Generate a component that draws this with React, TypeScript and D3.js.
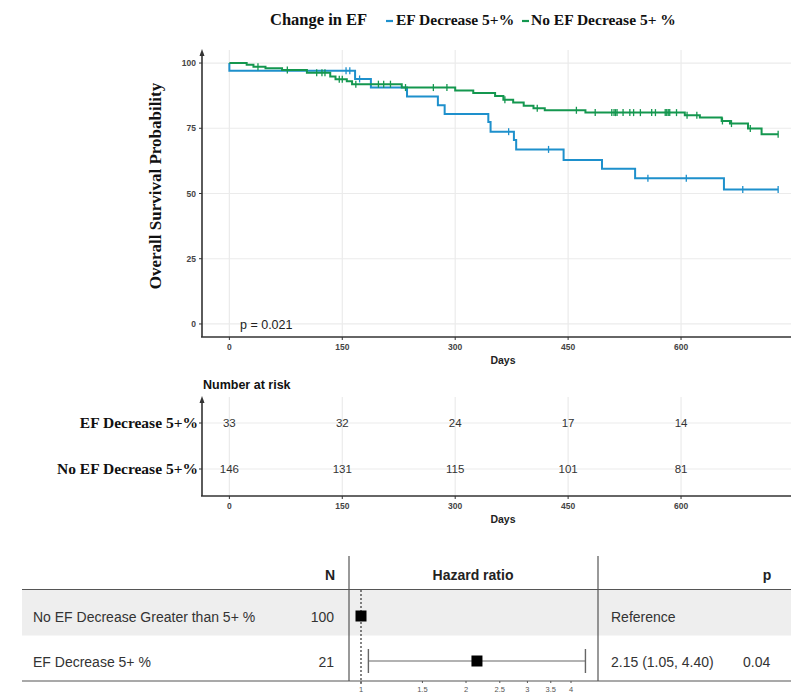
import React from "react";
import * as d3 from "d3";

// ---------- data ----------
const dayTicks = [0, 150, 300, 450, 600];
const survTicks = [0, 25, 50, 75, 100];
const groupNames = ["EF Decrease 5+%", "No EF Decrease 5+ %"];
const riskGroups = ["EF Decrease 5+%", "No EF Decrease 5+%"];

const efDecTimes = [0, 0, 167, 188, 236, 277, 286, 344, 347, 378, 381, 444, 495, 539, 657, 729];
const efDecSurv = [100, 97.0, 93.9, 90.6, 87.2, 83.8, 80.5, 77.4, 73.7, 70.5, 66.9, 62.8, 59.5, 55.8, 51.5, 51.5];
const efDecCensor = [155, 160, 173, 371, 424, 556, 607, 682, 729];

const noDecTimes = [0, 23, 32, 48, 70, 103, 134, 141, 156, 163, 229, 300, 324, 353, 364, 377, 391, 404, 419, 473, 605, 625, 654, 665, 689, 707, 729];
const noDecSurv = [100, 99.3, 98.6, 98.0, 97.3, 96.3, 94.8, 93.8, 93.0, 91.9, 90.6, 89.5, 88.5, 87.4, 85.9, 84.9, 83.6, 82.7, 81.9, 81.0, 80.0, 79.1, 77.8, 76.8, 74.9, 72.7, 72.7];
const noDecCensor = [38, 77, 116, 123, 127, 146, 150, 168, 198, 205, 214, 234, 271, 289, 366, 409, 461, 486, 508, 511, 513, 515, 523, 532, 537, 546, 561, 566, 579, 581, 583, 585, 594, 608, 621, 655, 667, 692, 729];

const riskEF = [33, 32, 24, 17, 14];
const riskNo = [146, 131, 115, 101, 81];

const pText = "p = 0.021";

const forestLabels = ["No EF Decrease Greater than 5+ %", "EF Decrease 5+ %"];
const forestN = [100, 21];
const forestHR = [1, 2.15];
const forestLo = [NaN, 1.05];
const forestHi = [NaN, 4.4];
const forestEst = ["Reference", "2.15 (1.05, 4.40)"];
const forestP = ["", "0.04"];
const hrTicks = [1, 1.5, 2, 2.5, 3, 3.5, 4];

// ---------- styles ----------
const BLUE = "#1e90cc";
const GREEN = "#14974f";
const GRID = "#ebebeb";
const AXIS = "#333333";
const SERIF = "'Liberation Serif', 'Times New Roman', serif";
const SANS = "'Liberation Sans', Arial, sans-serif";

function stepValue(times: number[], surv: number[], t: number) {
  let v = surv[0];
  for (let i = 0; i < times.length; i++) if (times[i] <= t) v = surv[i];
  return v;
}

export default function App() {
  const W = 791, H = 695;
  const x = d3.scaleLinear().domain([-36.35, 763.35]).range([202, 804]);
  const y = d3.scaleLinear().domain([-5, 105]).range([337, 50]);
  const line = d3
    .line<[number, number]>()
    .x((d) => x(d[0]))
    .y((d) => y(d[1]))
    .curve(d3.curveStepAfter);

  const series = [
    { times: efDecTimes, surv: efDecSurv, cens: efDecCensor, color: BLUE },
    { times: noDecTimes, surv: noDecSurv, cens: noDecCensor, color: GREEN },
  ];

  // risk table
  const ry = d3.scalePoint<string>().domain(riskGroups).range([423, 469]);
  const riskTop = 397, riskBottom = 496;
  const riskVals = [riskEF, riskNo];

  // forest
  const hx = d3.scaleLog().domain([1, 4]).range([361, 571]);
  const rowY = [617, 662];

  return (
    <svg width={W} height={H} style={{ position: "absolute", left: 0, top: 0, background: "#fff" }}>
      <style>{`body{margin:0}`}</style>
      {/* Legend */}
      <g>
        <text x={270} y={25} fontFamily={SERIF} fontWeight="bold" fontSize={16.5} fill="#111">Change in EF</text>
        <line x1={386} x2={393} y1={21} y2={21} stroke={BLUE} strokeWidth={2.2} />
        <text x={396} y={25} fontFamily={SERIF} fontWeight="bold" fontSize={15.5} fill="#111">{groupNames[0]}</text>
        <line x1={522} x2={529} y1={21} y2={21} stroke={GREEN} strokeWidth={2.2} />
        <text x={531} y={25} fontFamily={SERIF} fontWeight="bold" fontSize={15.5} fill="#111">{groupNames[1]}</text>
      </g>

      {/* main grid */}
      <g>
        {survTicks.map((t) => (
          <line key={"hg" + t} x1={202} x2={804} y1={y(t)} y2={y(t)} stroke={GRID} strokeWidth={1.2} />
        ))}
        {dayTicks.map((t) => (
          <line key={"vg" + t} x1={x(t)} x2={x(t)} y1={50} y2={337} stroke={GRID} strokeWidth={1.2} />
        ))}
      </g>

      {/* curves */}
      {series.map((s, i) => (
        <g key={"s" + i}>
          <path
            d={line(s.times.map((t, j) => [t, s.surv[j]] as [number, number])) || ""}
            fill="none"
            stroke={s.color}
            strokeWidth={2}
          />
          {s.cens.map((c, j) => {
            const v = stepValue(s.times, s.surv, c);
            return (
              <line key={j} x1={x(c)} x2={x(c)} y1={y(v) - 3.5} y2={y(v) + 3.5} stroke={s.color} strokeWidth={1.3} />
            );
          })}
        </g>
      ))}

      {/* axes */}
      <g>
        <line x1={202} x2={202} y1={54} y2={337} stroke={AXIS} strokeWidth={1.6} />
        <path d="M202,49 L199.5,56 L204.5,56 Z" fill={AXIS} />
        <line x1={201} x2={804} y1={337} y2={337} stroke={AXIS} strokeWidth={1.6} />
        {survTicks.map((t) => (
          <g key={"yt" + t}>
            <line x1={199} x2={202} y1={y(t)} y2={y(t)} stroke={AXIS} strokeWidth={1} />
            <text x={196} y={y(t) + 3} textAnchor="end" fontFamily={SANS} fontWeight="bold" fontSize={8.5} fill="#444">{t}</text>
          </g>
        ))}
        {dayTicks.map((t) => (
          <g key={"xt" + t}>
            <line x1={x(t)} x2={x(t)} y1={337} y2={340} stroke={AXIS} strokeWidth={1} />
            <text x={x(t)} y={350} textAnchor="middle" fontFamily={SANS} fontWeight="bold" fontSize={8.5} fill="#444">{t}</text>
          </g>
        ))}
        <text x={503} y={364} textAnchor="middle" fontFamily={SANS} fontWeight="bold" fontSize={10.5} fill="#222">Days</text>
        <text
          transform="translate(161,186) rotate(-90)"
          textAnchor="middle"
          fontFamily={SERIF}
          fontWeight="bold"
          fontSize={17}
          fill="#111"
        >
          Overall Survival Probability
        </text>
        <text x={240} y={329} fontFamily={SANS} fontSize={12.5} fill="#222">{pText}</text>
      </g>

      {/* risk table */}
      <g>
        <text x={203} y={389} fontFamily={SANS} fontWeight="bold" fontSize={12.5} fill="#111">Number at risk</text>
        {riskGroups.map((g) => (
          <line key={"rg" + g} x1={202} x2={804} y1={ry(g)} y2={ry(g)} stroke={GRID} strokeWidth={1.2} />
        ))}
        {dayTicks.map((t) => (
          <line key={"rv" + t} x1={x(t)} x2={x(t)} y1={riskTop} y2={riskBottom} stroke={GRID} strokeWidth={1.2} />
        ))}
        <line x1={202} x2={202} y1={riskTop + 4} y2={riskBottom} stroke={AXIS} strokeWidth={1.6} />
        <path d={`M202,${riskTop - 1} L199.5,${riskTop + 6} L204.5,${riskTop + 6} Z`} fill={AXIS} />
        <line x1={201} x2={804} y1={riskBottom} y2={riskBottom} stroke={AXIS} strokeWidth={1.6} />
        {riskGroups.map((g, i) => (
          <g key={"rl" + g}>
            <line x1={199} x2={202} y1={ry(g)} y2={ry(g)} stroke={AXIS} strokeWidth={1} />
            <text x={198} y={(ry(g) as number) + 5} textAnchor="end" fontFamily={SERIF} fontWeight="bold" fontSize={15.5} fill="#111">{g}</text>
            {riskVals[i].map((v, j) => (
              <text key={j} x={x(dayTicks[j])} y={(ry(g) as number) + 4} textAnchor="middle" fontFamily={SANS} fontSize={11.5} fill="#333">{v}</text>
            ))}
          </g>
        ))}
        {dayTicks.map((t) => (
          <g key={"rxt" + t}>
            <line x1={x(t)} x2={x(t)} y1={riskBottom} y2={riskBottom + 3} stroke={AXIS} strokeWidth={1} />
            <text x={x(t)} y={riskBottom + 13} textAnchor="middle" fontFamily={SANS} fontWeight="bold" fontSize={8.5} fill="#444">{t}</text>
          </g>
        ))}
        <text x={503} y={523} textAnchor="middle" fontFamily={SANS} fontWeight="bold" fontSize={10.5} fill="#222">Days</text>
      </g>

      {/* forest plot */}
      <g>
        <rect x={22} y={589.5} width={W - 22} height={46} fill="#eeeeee" />
        <line x1={22} x2={W} y1={589.5} y2={589.5} stroke="#555" strokeWidth={1.2} />
        <line x1={22} x2={W} y1={681} y2={681} stroke="#555" strokeWidth={1.2} />
        <line x1={349} x2={349} y1={556} y2={681} stroke="#555" strokeWidth={1.2} />
        <line x1={598} x2={598} y1={556} y2={681} stroke="#555" strokeWidth={1.2} />
        <text x={330} y={580} textAnchor="middle" fontFamily={SANS} fontWeight="bold" fontSize={14} fill="#222">N</text>
        <text x={473} y={580} textAnchor="middle" fontFamily={SANS} fontWeight="bold" fontSize={14} fill="#222">Hazard ratio</text>
        <text x={767} y={580} textAnchor="middle" fontFamily={SANS} fontWeight="bold" fontSize={14} fill="#222">p</text>
        <line x1={hx(1)} x2={hx(1)} y1={590} y2={684} stroke="#333" strokeWidth={1.2} strokeDasharray="2,2" />
        {forestLabels.map((lab, i) => (
          <g key={"f" + i}>
            <text x={33} y={rowY[i] + 5} fontFamily={SANS} fontSize={14} fill="#333">{lab}</text>
            <text x={334} y={rowY[i] + 5} textAnchor="end" fontFamily={SANS} fontSize={14} fill="#333">{forestN[i]}</text>
            {!isNaN(forestLo[i]) && (
              <g>
                <line x1={hx(forestLo[i])} x2={hx(forestHi[i])} y1={rowY[i] - 1} y2={rowY[i] - 1} stroke="#666" strokeWidth={1.2} />
                <line x1={hx(forestLo[i])} x2={hx(forestLo[i])} y1={rowY[i] - 13} y2={rowY[i] + 11} stroke="#666" strokeWidth={1.4} />
                <line x1={hx(forestHi[i])} x2={hx(forestHi[i])} y1={rowY[i] - 13} y2={rowY[i] + 11} stroke="#666" strokeWidth={1.4} />
              </g>
            )}
            <rect x={hx(forestHR[i]) - 5.5} y={rowY[i] - 6.5} width={11} height={11} fill="#000" />
            <text x={611} y={rowY[i] + 5} fontFamily={SANS} fontSize={14} fill="#333">{forestEst[i]}</text>
            <text x={743} y={rowY[i] + 5} fontFamily={SANS} fontSize={14} fill="#333">{forestP[i]}</text>
          </g>
        ))}
        {hrTicks.map((t) => (
          <g key={"ht" + t}>
            <line x1={hx(t)} x2={hx(t)} y1={681} y2={683} stroke="#555" strokeWidth={1} />
            <text x={hx(t)} y={692} textAnchor="middle" fontFamily={SANS} fontSize={7.5} fill="#555">{t}</text>
          </g>
        ))}
      </g>
    </svg>
  );
}
